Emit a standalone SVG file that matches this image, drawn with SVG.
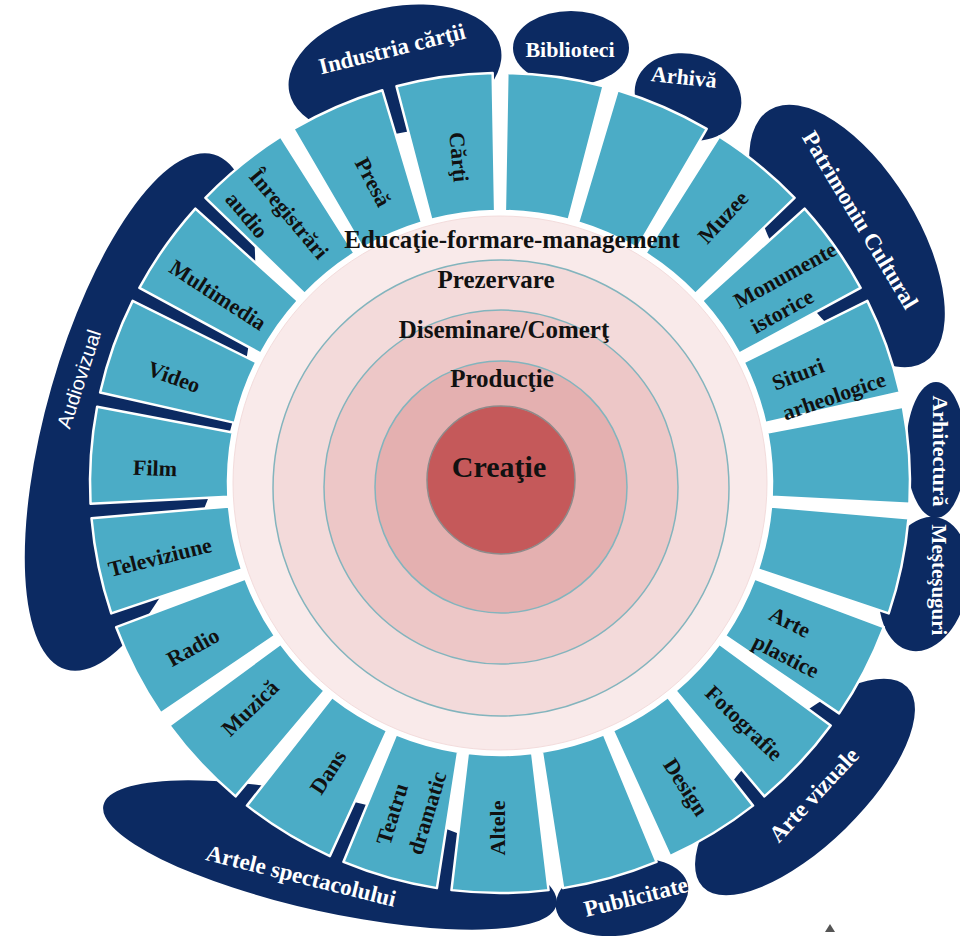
<svg xmlns="http://www.w3.org/2000/svg" width="960" height="936" viewBox="0 0 960 936">
<defs>
<path id="wedge" d="M451.45,75.88 A410,410 0 0 1 548.55,75.88 L532.21,212.91 A272,272 0 0 0 467.79,212.91 Z"/>
</defs>
<style>
.seg{fill:#4bacc6;stroke:#ffffff;stroke-width:2.5;stroke-linejoin:round}
.blob{fill:#0c2a62}
.lbl{font-family:'Liberation Serif','Times New Roman',serif;font-weight:bold;font-size:22px;fill:#111111;text-anchor:middle;dominant-baseline:central}
.blbl{font-family:'Liberation Serif','Times New Roman',serif;font-weight:bold;font-size:23px;fill:#ffffff;text-anchor:middle;dominant-baseline:central}
.sans{font-family:'Liberation Sans',Arial,sans-serif;font-weight:normal;font-size:20px}
.ring{stroke:#83b4bd;stroke-width:1.5}
.rlbl{font-family:'Liberation Serif','Times New Roman',serif;font-weight:bold;font-size:25px;fill:#111111;text-anchor:middle}
</style>
<rect width="960" height="936" fill="#ffffff"/>

<g id="categories">
  <g id="cat-industria">
    <ellipse class="blob" cx="395" cy="70" rx="108" ry="63" transform="rotate(-12 395 70)"/>
    <text class="blbl" transform="translate(392,49) rotate(-14)">Industria cărţii</text>
  </g>
  <g id="cat-biblioteci">
    <ellipse class="blob" cx="571" cy="48" rx="58" ry="37"/>
    <text class="blbl" style="font-size:22px" transform="translate(570,49)">Biblioteci</text>
  </g>
  <g id="cat-arhiva">
    <ellipse class="blob" cx="688" cy="97" rx="54" ry="43" transform="rotate(15 688 97)"/>
    <text class="blbl" style="font-size:22px" transform="translate(684,77) rotate(6)">Arhivă</text>
  </g>
  <g id="cat-patrimoniu">
    <ellipse class="blob" cx="847" cy="236" rx="148" ry="70" transform="rotate(58.4 847 236)"/>
    <text class="blbl" transform="translate(860,220) rotate(59)">Patrimoniu Cultural</text>
  </g>
  <g id="cat-arhitectura">
    <ellipse class="blob" cx="936" cy="450" rx="30" ry="68"/>
    <text class="blbl" style="font-size:22px" transform="translate(940,451) rotate(90)">Arhitectură</text>
  </g>
  <g id="cat-mestesuguri">
    <ellipse class="blob" cx="924" cy="584" rx="44" ry="68" transform="rotate(12 924 584)"/>
    <text class="blbl" style="font-size:21px" transform="translate(939,580) rotate(90)">Meşteşuguri</text>
  </g>
  <g id="cat-arte-vizuale">
    <ellipse class="blob" cx="805" cy="787" rx="143" ry="58" transform="rotate(-44.4 805 787)"/>
    <text class="blbl" transform="translate(814,795) rotate(-47)">Arte vizuale</text>
  </g>
  <g id="cat-publicitate">
    <ellipse class="blob" cx="622" cy="897" rx="67" ry="38" transform="rotate(-10 622 897)"/>
    <text class="blbl" transform="translate(636,897) rotate(-14)">Publicitate</text>
  </g>
  <g id="cat-artele">
    <ellipse class="blob" cx="330" cy="855" rx="232" ry="57" transform="rotate(12.4 330 855)"/>
    <text class="blbl" transform="translate(301,876) rotate(14)">Artele spectacolului</text>
  </g>
  <g id="cat-audiovizual">
    <ellipse class="blob" cx="140" cy="412" rx="92" ry="268" transform="rotate(16 140 412)"/>
    <text class="blbl sans" transform="translate(79,379) rotate(-72)">Audiovizual</text>
  </g>
</g>

<g id="domains">
  <g id="seg-altele"><use href="#wedge" class="seg" transform="rotate(180 500 483)"/><text class="lbl" transform="translate(497,828) rotate(-90)">Altele</text></g>
  <g id="seg-teatru"><use href="#wedge" class="seg" transform="rotate(195.652 500 483)"/><text class="lbl" transform="translate(392,814) rotate(-73)">Teatru</text><text class="lbl" transform="translate(427,813) rotate(-73)">dramatic</text></g>
  <g id="seg-dans"><use href="#wedge" class="seg" transform="rotate(211.304 500 483)"/><text class="lbl" transform="translate(328,772) rotate(-57)">Dans</text></g>
  <g id="seg-muzica"><use href="#wedge" class="seg" transform="rotate(226.957 500 483)"/><text class="lbl" transform="translate(250,708) rotate(-44)">Muzică</text></g>
  <g id="seg-radio"><use href="#wedge" class="seg" transform="rotate(242.609 500 483)"/><text class="lbl" transform="translate(193,647) rotate(-29)">Radio</text></g>
  <g id="seg-televiziune"><use href="#wedge" class="seg" transform="rotate(258.261 500 483)"/><text class="lbl" transform="translate(160,557) rotate(-14)">Televiziune</text></g>
  <g id="seg-film"><use href="#wedge" class="seg" transform="rotate(273.913 500 483)"/><text class="lbl" transform="translate(155,468) rotate(2)">Film</text></g>
  <g id="seg-video"><use href="#wedge" class="seg" transform="rotate(289.565 500 483)"/><text class="lbl" transform="translate(174,377) rotate(20)">Video</text></g>
  <g id="seg-multimedia"><use href="#wedge" class="seg" transform="rotate(305.217 500 483)"/><text class="lbl" transform="translate(218,295) rotate(33)">Multimedia</text></g>
  <g id="seg-inregistrari"><use href="#wedge" class="seg" transform="rotate(320.870 500 483)"/><text class="lbl" transform="translate(289,214) rotate(50)">Înregistrări</text><text class="lbl" transform="translate(247,215) rotate(50)">audio</text></g>
  <g id="seg-presa"><use href="#wedge" class="seg" transform="rotate(336.522 500 483)"/><text class="lbl" transform="translate(373,182) rotate(62)">Presă</text></g>
  <g id="seg-carti"><use href="#wedge" class="seg" transform="rotate(352.174 500 483)"/><text class="lbl" transform="translate(459,157) rotate(85)">Cărţi</text></g>
  <g id="seg-biblioteci"><use href="#wedge" class="seg" transform="rotate(7.826 500 483)"/></g>
  <g id="seg-arhiva"><use href="#wedge" class="seg" transform="rotate(23.478 500 483)"/></g>
  <g id="seg-muzee"><use href="#wedge" class="seg" transform="rotate(39.130 500 483)"/><text class="lbl" transform="translate(723,217) rotate(-47)">Muzee</text></g>
  <g id="seg-monumente"><use href="#wedge" class="seg" transform="rotate(54.783 500 483)"/><text class="lbl" transform="translate(785,275) rotate(-29)">Monumente</text><text class="lbl" transform="translate(782,311) rotate(-29)">istorice</text></g>
  <g id="seg-situri"><use href="#wedge" class="seg" transform="rotate(70.435 500 483)"/><text class="lbl" transform="translate(798,374) rotate(-21)">Situri</text><text class="lbl" transform="translate(834,396) rotate(-19)">arheologice</text></g>
  <g id="seg-arhitectura"><use href="#wedge" class="seg" transform="rotate(86.087 500 483)"/></g>
  <g id="seg-mestesuguri"><use href="#wedge" class="seg" transform="rotate(101.739 500 483)"/></g>
  <g id="seg-arte-plastice"><use href="#wedge" class="seg" transform="rotate(117.391 500 483)"/><text class="lbl" transform="translate(790,622) rotate(27)">Arte</text><text class="lbl" transform="translate(786,656) rotate(27)">plastice</text></g>
  <g id="seg-fotografie"><use href="#wedge" class="seg" transform="rotate(133.043 500 483)"/><text class="lbl" transform="translate(744,723) rotate(44)">Fotografie</text></g>
  <g id="seg-design"><use href="#wedge" class="seg" transform="rotate(148.696 500 483)"/><text class="lbl" transform="translate(686,787) rotate(57)">Design</text></g>
  <g id="seg-publicitate"><use href="#wedge" class="seg" transform="rotate(164.348 500 483)"/></g>
</g>

<g id="core">
  <g id="ring-educatie"><circle cx="500" cy="483" r="267" fill="#f9eaea" stroke="#f3dcdc" stroke-width="1"/></g>
  <g id="ring-prezervare"><circle class="ring" cx="501" cy="488" r="228" fill="#f3dada"/></g>
  <g id="ring-diseminare"><circle class="ring" cx="501" cy="487" r="177" fill="#edc7c7"/></g>
  <g id="ring-productie"><circle class="ring" cx="501" cy="487" r="126" fill="#e4b0b0"/></g>
  <g id="ring-creatie"><circle cx="501" cy="480" r="74" fill="#c5595a" stroke="#8e8a8a" stroke-width="1.5"/></g>
  <text class="rlbl" x="512" y="248">Educaţie-formare-management</text>
  <text class="rlbl" x="496" y="288">Prezervare</text>
  <text class="rlbl" x="504" y="338">Diseminare/Comerţ</text>
  <text class="rlbl" x="502" y="387">Producţie</text>
  <text class="rlbl" x="499" y="477" style="font-size:30px">Creaţie</text>
</g>

<polygon points="825,932 830,924 835,932" fill="#555555"/>
</svg>
